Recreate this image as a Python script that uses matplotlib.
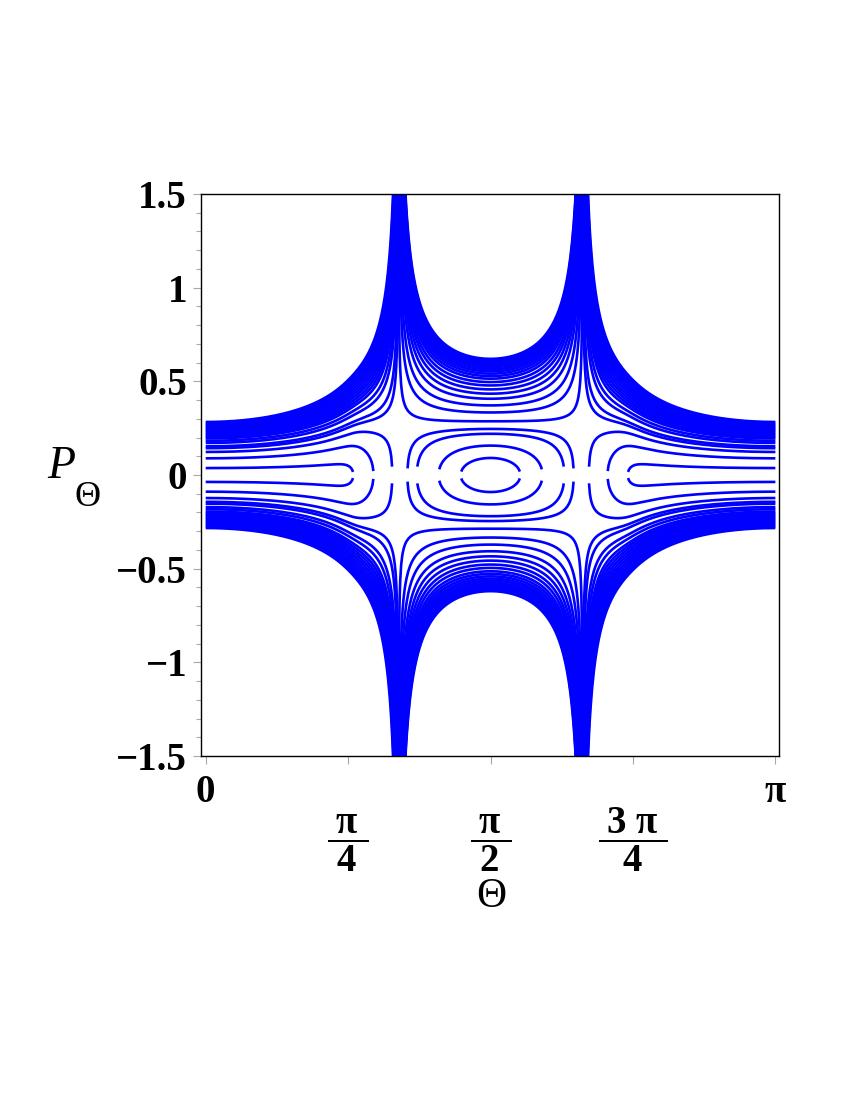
import numpy as np
import matplotlib.pyplot as plt
from matplotlib.ticker import MultipleLocator

plt.rcParams['font.family'] = ['Liberation Serif', 'DejaVu Serif']
plt.rcParams['mathtext.fontset'] = 'custom'
plt.rcParams['mathtext.rm'] = 'Liberation Serif:bold'
plt.rcParams['mathtext.it'] = 'Liberation Serif:bold'
plt.rcParams['mathtext.bf'] = 'Liberation Serif:bold'

# model H = f(T) P^2 + V(T), u = cos^2 T
# f = (u - c)(1 + m u) vanishes at the two asymptotes, V ~ -a u flattening past u_knee
c_sing = 0.2365
m_kin = 0.257
a_pot = 0.073
u_knee = 0.465
s_knee = 0.03

# P_Theta where a curve crosses Theta = pi/2 (closed orbits, then U-shaped curves)
p_mid_orbits = [0.091, 0.157, 0.22, 0.246]
p_mid_open = [0.407, 0.434, 0.457, 0.478, 0.496, 0.514, 0.528, 0.541,
              0.553, 0.564, 0.575, 0.585, 0.594, 0.603, 0.612, 0.620]
# P_Theta where a curve crosses Theta = 0 (lobes, then outer open band)
p_edge_lobes = [0.037, 0.089, 0.123]
p_edge_open = [0.195, 0.203, 0.211, 0.219, 0.227, 0.235, 0.243, 0.251,
               0.259, 0.267, 0.275, 0.283]

xtick_vals = [0, np.pi / 4, np.pi / 2, 3 * np.pi / 4, np.pi]
xtick_labels = ['0', r'$\dfrac{\;\pi\;}{\;4\;}$', r'$\dfrac{\;\pi\;}{\;2\;}$',
                r'$\dfrac{\;3\;\pi\;}{4}$', r'$\pi$']
ytick_vals = [-1.5, -1, -0.5, 0, 0.5, 1, 1.5]
ytick_labels = ['\u22121.5', '\u22121', '\u22120.5', '0', '0.5', '1', '1.5']


def pot(th):
    u = np.cos(th) ** 2
    return -a_pot * (u_knee - s_knee * np.logaddexp(0, (u_knee - u) / s_knee))


def kin(th):
    u = np.cos(th) ** 2
    return (u - c_sing) * (1 + m_kin * u)


def ham(th, p):
    return kin(th) * p ** 2 + pot(th)


levels = [ham(np.pi / 2, p) for p in p_mid_orbits + p_mid_open]
levels += [ham(0.0, p) for p in p_edge_lobes + p_edge_open]

# sample Theta, with extra points close to the two asymptotes
th_a = np.arccos(np.sqrt(c_sing))
near = np.geomspace(1e-6, 0.02, 40)
theta = np.concatenate([np.linspace(0, np.pi, 701),
                        th_a - near, th_a + near,
                        np.pi - th_a - near, np.pi - th_a + near])
theta = np.sort(theta)

fig = plt.figure(figsize=(8.5, 11), dpi=100)
ax = fig.add_axes([201 / 850, 1 - 756 / 1100, 578 / 850, 562 / 1100])

for E in levels:
    g = (E - pot(theta)) / kin(theta)
    p = np.where(g >= 0, np.sqrt(np.abs(g)), np.nan)
    ax.plot(theta, p, color='#0000ff', lw=1.9, solid_capstyle='butt')
    ax.plot(theta, -p, color='#0000ff', lw=1.9, solid_capstyle='butt')

ax.set_xlim(-0.026, np.pi + 0.020)
ax.set_ylim(-1.5, 1.5)

ax.set_yticks(ytick_vals)
ax.set_yticklabels(ytick_labels, fontsize=28, fontweight='bold')
ax.yaxis.set_minor_locator(MultipleLocator(0.1))
ax.tick_params(axis='y', which='major', length=6, width=0.8, color='#a8a8a8', pad=4)
ax.tick_params(axis='y', which='minor', length=3.5, width=0.8, color='#a8a8a8')

ax.set_xticks(xtick_vals)
ax.set_xticklabels(xtick_labels, fontsize=28, fontweight='bold')
ax.tick_params(axis='x', which='major', length=6, width=0.8, color='#a8a8a8', pad=7)
for i, tick in enumerate(ax.xaxis.get_major_ticks()):
    if i in (1, 2, 3):
        tick.set_pad(63)
        tick.label1.set_va('baseline')
    else:
        tick.set_pad(7)

for s in ax.spines.values():
    s.set_linewidth(1.0)
    s.set_color('black')

fig.text(491 / 850, 1 - 897 / 1100, '\u0398', fontsize=30, ha='center', va='center')
fig.text(61 / 850, 1 - 478 / 1100, 'P', fontsize=33, style='italic', ha='center', va='baseline')
fig.text(88 / 850, 1 - 498 / 1100, '\u0398', fontsize=26, ha='center', va='center')

fig.savefig('out.png', dpi=100)
